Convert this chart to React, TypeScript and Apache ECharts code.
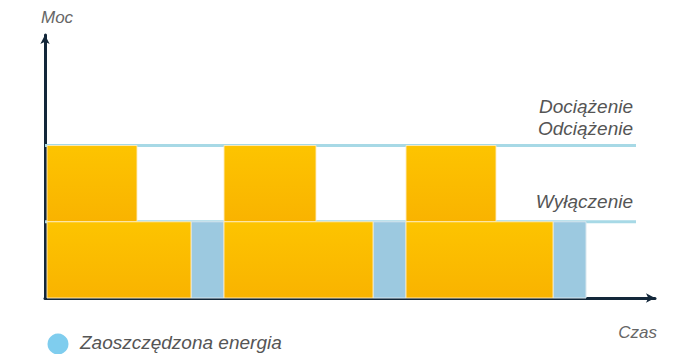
import React, { useEffect, useRef } from "react";
import * as echarts from "echarts";

// time segments (x in time units, y in power units)
const upperBlocks = [
  [0.2, 9.2],
  [17.9, 27.1],
  [36.1, 45.1],
];
const lowerBlocks = [
  [0.2, 14.6],
  [17.9, 32.8],
  [36.1, 50.8],
];
const savedBlocks = [
  [14.6, 17.9],
  [32.8, 36.1],
  [50.8, 54.1],
];
const levelOff = 1; // Wyłączenie
const levelLoad = 2; // Odciążenie / Dociążenie
const lineEnd = 59.1;
const xMax = 61;
const yMax = 3.45;
const legendLabel = "Zaoszczędzona energia";

export default function App() {
  const ref = useRef<HTMLDivElement>(null);
  useEffect(() => {
    document.body.style.margin = "0";
    const chart = echarts.init(ref.current!, null, { renderer: "svg" });
    const orange = new echarts.graphic.LinearGradient(0, 0, 0, 1, [
      { offset: 0, color: "#fdc400" },
      { offset: 1, color: "#f9b300" },
    ]);
    const rectItem = (fill: any, stroke: string) => (params: any, api: any) => {
      const x0 = api.value(0), x1 = api.value(1), y0 = api.value(2), y1 = api.value(3);
      const p0 = api.coord([x0, y1]);
      const p1 = api.coord([x1, y0]);
      return {
        type: "rect",
        shape: { x: p0[0], y: p0[1], width: p1[0] - p0[0], height: p1[1] - p0[1] },
        style: { fill, stroke, lineWidth: 1 },
      };
    };
    const upperData = upperBlocks.map(([a, b]) => [a, b, levelOff, levelLoad]);
    const lowerData = lowerBlocks.map(([a, b]) => [a, b, 0, levelOff]);
    const savedData = savedBlocks.map(([a, b]) => [a, b, 0, levelOff]);
    const italic = { fontStyle: "italic", fontFamily: "Liberation Sans, Arial, sans-serif" };
    chart.setOption({
      animation: false,
      grid: { left: 45, right: 27, top: 35, bottom: 56 },
      xAxis: {
        type: "value",
        min: 0,
        max: xMax,
        axisLine: { show: true, symbol: ["none", "arrow"], symbolSize: [7, 9], lineStyle: { color: "#13273a", width: 3 } },
        axisTick: { show: false },
        axisLabel: { show: false },
        splitLine: { show: false },
      },
      yAxis: {
        type: "value",
        min: 0,
        max: yMax,
        axisLine: { show: true, symbol: ["none", "arrow"], symbolSize: [7, 9], lineStyle: { color: "#13273a", width: 3 } },
        axisTick: { show: false },
        axisLabel: { show: false },
        splitLine: { show: false },
      },
      series: [
        {
          type: "line",
          data: [[0, levelOff], [lineEnd, levelOff]],
          symbol: "none",
          lineStyle: { color: "#a7d9e6", width: 3 },
          z: 1,
          silent: true,
        },
        {
          type: "line",
          data: [[0, levelLoad], [lineEnd, levelLoad]],
          symbol: "none",
          lineStyle: { color: "#a7d9e6", width: 3 },
          z: 1,
          silent: true,
        },
        {
          type: "custom",
          name: "upper",
          data: upperData,
          renderItem: rectItem(orange, "rgba(255,236,190,0.9)"),
          z: 3,
        },
        {
          type: "custom",
          name: "lower",
          data: lowerData,
          renderItem: rectItem(orange, "rgba(255,236,190,0.9)"),
          z: 3,
        },
        {
          type: "custom",
          name: legendLabel,
          data: savedData,
          renderItem: rectItem("#9cc9e0", "#d8e6ee"),
          z: 2,
        },
      ],
      graphic: [
        { type: "text", left: 41, top: 9, style: { text: "Moc", ...italic, fontSize: 17, fill: "#666" } },
        { type: "text", right: 25, top: 324, style: { text: "Czas", ...italic, fontSize: 17, fill: "#666" } },
        { type: "text", right: 49, top: 97, style: { text: "Dociążenie", ...italic, fontSize: 19, fill: "#555" } },
        { type: "text", right: 49, top: 119, style: { text: "Odciążenie", ...italic, fontSize: 19, fill: "#555" } },
        { type: "text", right: 49, top: 192, style: { text: "Wyłączenie", ...italic, fontSize: 19, fill: "#555" } },
        { type: "circle", shape: { cx: 58, cy: 344, r: 10.5 }, style: { fill: "#7fcdee" } },
        { type: "text", left: 80, top: 333, style: { text: legendLabel, ...italic, fontSize: 19, fill: "#555" } },
      ],
    });
    return () => chart.dispose();
  }, []);
  return <div ref={ref} style={{ width: 682, height: 354 }} />;
}
